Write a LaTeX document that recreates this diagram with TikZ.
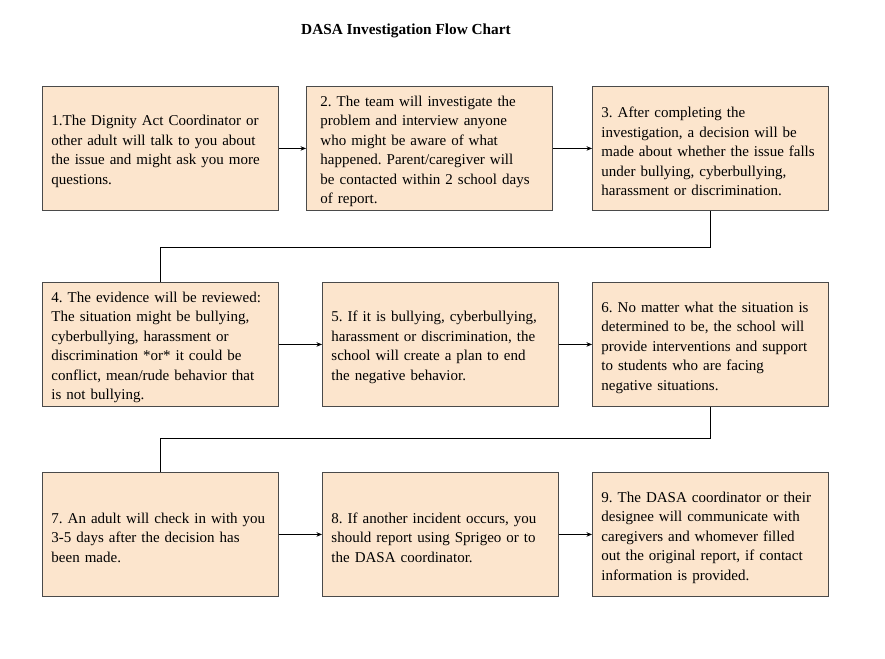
\documentclass[tikz,border=0pt]{standalone}
\usepackage{fontspec}
\setmainfont{Liberation Serif}
\usetikzlibrary{arrows.meta}
\definecolor{boxfill}{HTML}{FCE5CD}
\definecolor{boxline}{HTML}{4A4A4A}
\tikzset{
  stepbox/.style={draw=boxline, line width=0.9pt, fill=boxfill, rectangle, anchor=north west,
    minimum width=236pt, minimum height=124pt, inner xsep=9pt, inner ysep=4pt,
    text width=218pt, align=left, font=\fontsize{15}{19.5}\selectfont,
    execute at end node={\par\vspace*{-6pt}}},
  flowarrow/.style={draw=black, line width=0.8pt, -{Stealth[length=5.5pt,width=4.5pt]}},
  elbow/.style={draw=black, line width=0.8pt}
}
\begin{document}
\frenchspacing
\begin{tikzpicture}[x=1pt,y=-1pt]
\useasboundingbox (0,0) rectangle (885,658);
\node[font=\bfseries\fontsize{15.3}{17}\selectfont] (title) at (406,31) {DASA Investigation Flow Chart};

\node[stepbox] (b1) at (42,86) {1.The Dignity Act Coordinator or\\other adult will talk to you about\\the issue and might ask you more\\questions.};
\node[stepbox, minimum width=246pt] (b2) at (306,86) {2. The team will investigate the\\problem and interview anyone\\who might be aware of what\\happened. Parent/caregiver will\\be contacted within 2 school days\\of report.};
\node[stepbox] (b3) at (592,86) {3. After completing the\\investigation, a decision will be\\made about whether the issue falls\\under bullying, cyberbullying,\\harassment or discrimination.};

\node[stepbox] (b4) at (42,282) {4. The evidence will be reviewed:\\The situation might be bullying,\\cyberbullying, harassment or\\discrimination *or* it could be\\conflict, mean/rude behavior that\\is not bullying.};
\node[stepbox, minimum width=235pt] (b5) at (322,282) {5. If it is bullying, cyberbullying,\\harassment or discrimination, the\\school will create a plan to end\\the negative behavior.};
\node[stepbox] (b6) at (592,282) {6. No matter what the situation is\\determined to be, the school will\\provide interventions and support\\to students who are facing\\negative situations.};

\node[stepbox] (b7) at (42,472) {7. An adult will check in with you\\3-5 days after the decision has\\been made.};
\node[stepbox, minimum width=235pt] (b8) at (322,472) {8. If another incident occurs, you\\should report using Sprigeo or to\\the DASA coordinator.};
\node[stepbox] (b9) at (592,472) {9. The DASA coordinator or their\\designee will communicate with\\caregivers and whomever filled\\out the original report, if contact\\information is provided.};

\draw[flowarrow] (b1.east) -- (b2.west);
\draw[flowarrow] (b2.east) -- (b3.west);
\draw[flowarrow] (b4.east) -- (b5.west);
\draw[flowarrow] (b5.east) -- (b6.west);
\draw[flowarrow] (b7.east) -- (b8.west);
\draw[flowarrow] (b8.east) -- (b9.west);

\draw[elbow] (b3.south) -- ++(0,36) -| (b4.north);
\draw[elbow] (b6.south) -- ++(0,31) -| (b7.north);
\end{tikzpicture}
\end{document}
